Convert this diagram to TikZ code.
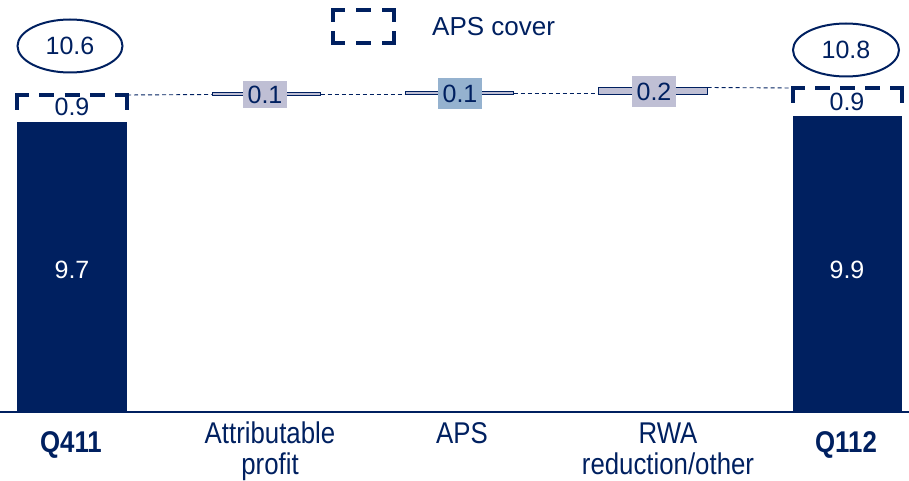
\documentclass[tikz,border=0pt]{standalone}
\usepackage{fontspec}
\setmainfont{Liberation Sans}
\newfontfamily\catfont[FakeStretch=0.86]{Liberation Sans}
\usetikzlibrary{shapes.geometric}
\definecolor{navy}{RGB}{0,32,96}
\definecolor{lav}{RGB}{191,191,212}
\definecolor{steel}{RGB}{149,178,207}
\begin{document}
\begin{tikzpicture}[x=1pt,y=-1pt,
  bigbar/.style={fill=navy,draw=none,inner sep=0pt},
  smallbar/.style={fill=lav,draw=navy,line width=1pt,inner sep=0pt,minimum width=108pt},
  numtxt/.style={font=\fontsize{25}{25}\selectfont,inner sep=0pt,text=navy},
  whitetxt/.style={numtxt,text=white},
  valbox/.style={numtxt,minimum width=44pt,text height=18pt,text depth=0pt},
  total/.style={ellipse,draw=navy,line width=2pt,numtxt,minimum width=105pt,minimum height=53pt},
  cover/.style={draw=navy,line width=3.5pt},
  conn/.style={draw=navy,line width=0.9pt,dash pattern=on 4pt off 3pt},
  catlabel/.style={font=\catfont\fontsize{30}{31}\selectfont,text=navy,align=center,inner sep=0pt,anchor=base},
  catbold/.style={catlabel,font=\catfont\bfseries\fontsize{30}{31}\selectfont},
  legtxt/.style={font=\fontsize{26}{26}\selectfont,text=navy,inner sep=0pt,anchor=west}
]
\useasboundingbox (0,0) rectangle (909,481);

% axis
\coordinate (axL) at (0,412);
\coordinate (axR) at (909,412);

% big bars
\node[bigbar,minimum width=110pt,minimum height=290pt,anchor=south west] (q411) at (17,412) {};
\node[bigbar,minimum width=109pt,minimum height=296pt,anchor=south west] (q112) at (793,412) {};
\draw[navy,line width=2pt] (axL) -- (axR);

\node[whitetxt] (v411) at (72,270) {9.7};
\node[whitetxt] (v112) at (847,270) {9.9};

% APS cover boxes
\draw[cover] (17,110) -- (17,95) -- (29,95);
\draw[cover] (115,95) -- (127,95) -- (127,110);
\draw[cover,dash pattern=on 15pt off 10.25pt,dash phase=15pt] (29,95) -- (115,95);
\coordinate (c411) at (127,95);
\node[numtxt] (cv411) at (72,107) {0.9};

\draw[cover] (793,103) -- (793,88) -- (805,88);
\draw[cover] (890,88) -- (902,88) -- (902,103);
\draw[cover,dash pattern=on 15pt off 10pt,dash phase=15pt] (805,88) -- (890,88);
\coordinate (c112) at (793,88);
\node[numtxt] (cv112) at (847,102) {0.9};

% totals
\node[total] (t411) at (70,46) {10.6};
\node[total,minimum width=106pt] (t112) at (846,50) {10.8};

% small bars
\node[smallbar,minimum height=3pt] (ap) at (266,94.5) {};
\node[smallbar,minimum height=3pt] (aps) at (459,93.5) {};
\node[smallbar,minimum width=109pt,minimum height=7pt] (rwa) at (652.5,91.5) {};

% connectors
\draw[conn] (c411) -- (ap.west);
\draw[conn] (ap.east) -- (aps.west |- ap.east);
\draw[conn] (aps.east) -- (rwa.west |- aps.east);
\draw[conn] (rwa.north east) -- (c112);

% value boxes
\node[valbox,fill=lav,minimum height=27pt] (lap) at (265,94.5) {0.1};
\node[valbox,fill=steel,minimum height=31pt] (laps) at (460,93.5) {0.1};
\node[valbox,fill=lav,minimum height=31pt] (lrwa) at (654,91.5) {0.2};

% legend
\draw[cover] (333,22) -- (333,10) -- (345,10);
\draw[cover] (382,10) -- (394,10) -- (394,22);
\draw[cover] (333,31) -- (333,43) -- (345,43);
\draw[cover] (382,43) -- (394,43) -- (394,31);
\draw[cover] (356,10) -- (371,10);
\draw[cover] (356,43) -- (371,43);
\node[legtxt] (leg) at (432,27) {APS cover};

% category labels
\node[catbold] (k411) at (71,452) {Q411};
\node[catlabel] (kap) at (270,474) {Attributable\\profit};
\node[catlabel] (kaps) at (462,443) {APS};
\node[catlabel] (krwa) at (668,474) {RWA\\reduction/other};
\node[catbold] (k112) at (846,452) {Q112};
\end{tikzpicture}
\end{document}
